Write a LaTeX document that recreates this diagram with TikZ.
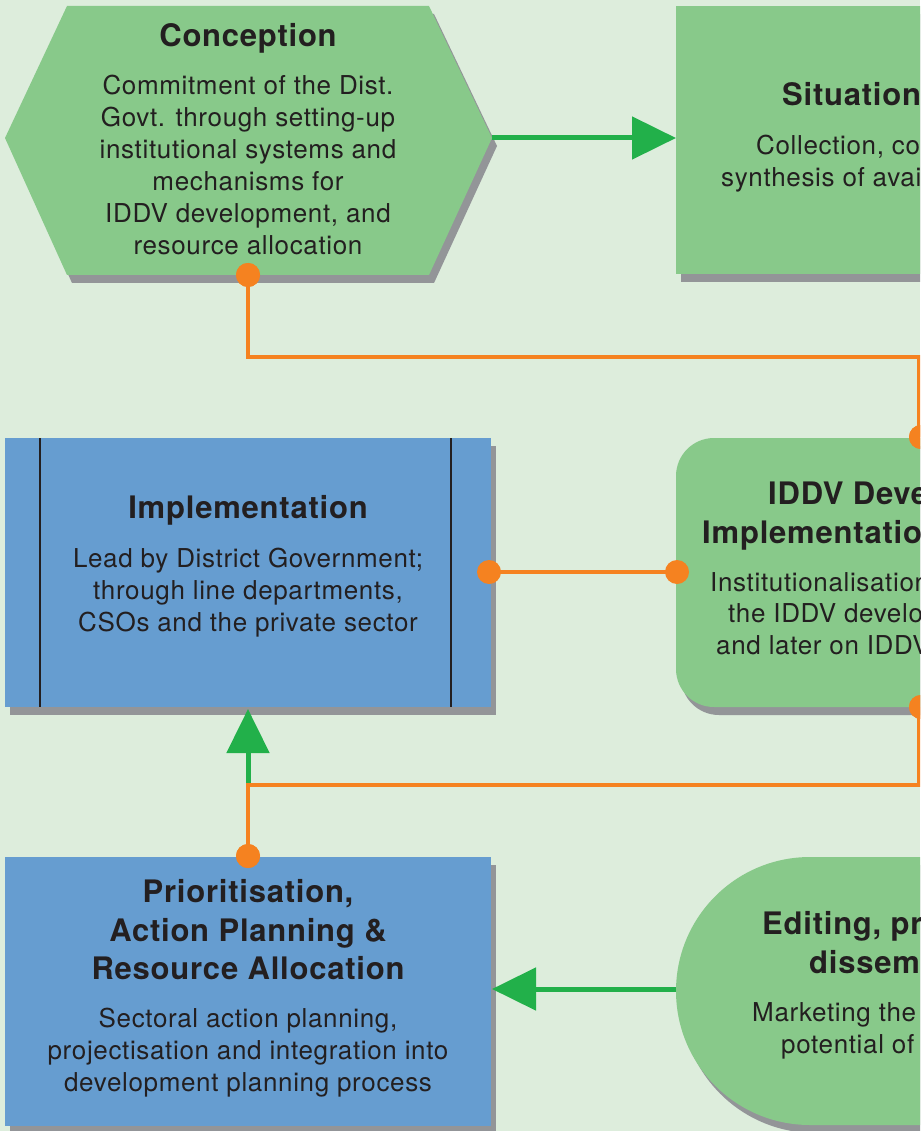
\documentclass[tikz,border=0pt]{standalone}
\usepackage{fontspec}
\setmainfont{TeX Gyre Heros}[LetterSpace=2.5]
\usetikzlibrary{arrows.meta}
\definecolor{bgc}{RGB}{221,237,220}
\definecolor{boxgreen}{RGB}{136,201,138}
\definecolor{boxblue}{RGB}{102,157,208}
\definecolor{shadowgray}{RGB}{147,149,152}
\definecolor{arrowgreen}{RGB}{34,176,74}
\definecolor{linkorange}{RGB}{245,130,32}
\definecolor{inkc}{RGB}{35,31,32}
\begin{document}
\begin{tikzpicture}[x=1pt,y=-1pt,
  shade/.style={fill=shadowgray},
  gbox/.style={fill=boxgreen},
  bbox/.style={fill=boxblue},
  ttl/.style={inner sep=0pt,text=inkc,font=\fontsize{31}{39}\selectfont\bfseries},
  bdy/.style={inner sep=0pt,text=inkc,font=\fontsize{26}{32}\selectfont},
  ctr/.style={anchor=base},
  frag/.style={anchor=base west},
  oline/.style={draw=linkorange,line width=4pt},
  garrow/.style={draw=arrowgreen,line width=5pt,-{Triangle[length=44pt,width=42pt]}},
  dot/.style={circle,fill=linkorange,inner sep=0pt,minimum size=24pt}]
\useasboundingbox (0,0) rectangle (920,1131);
\clip (0,0) rectangle (920,1131);
\fill[bgc] (0,0) rectangle (920,1131);

% ---------- shapes: shadows ----------
\fill[shade,shift={(5,8)}] (5,138) -- (67,6) -- (429,6) -- (492,138) -- (429,275) -- (67,275) -- cycle;
\fill[shade] (681,14) rectangle (960,282);
\fill[shade] (10,446) rectangle (496,715);
\fill[shade,rounded corners=38pt] (681,446) rectangle (1000,715);
\fill[shade] (10,865) rectangle (496,1134);
\fill[shade] (1000,865) -- (815,865) arc[start angle=270,end angle=90,radius=134] -- (1000,1133) -- cycle;

% ---------- shapes ----------
\fill[gbox] (5,138) -- (67,6) -- (429,6) -- (492,138) -- (429,275) -- (67,275) -- cycle;
\fill[gbox] (676,6) rectangle (960,274);
\fill[bbox] (5,438) rectangle (491,707);
\draw[inkc,line width=2pt] (40,438) -- (40,707) (451,438) -- (451,707);
\fill[gbox,rounded corners=38pt] (676,438) rectangle (1000,707);
\fill[bbox] (5,857) rectangle (491,1126);
\fill[gbox] (1000,857) -- (810,857) arc[start angle=270,end angle=90,radius=134] -- (1000,1125) -- cycle;

% ---------- anchor points ----------
\coordinate (conR) at (492,138);
\coordinate (sitL) at (676,138);
\coordinate (topRun) at (918.5,357);
\coordinate (botRun) at (918.5,785);
\coordinate (junc) at (248,785);
\coordinate (impB) at (248,709);
\coordinate (ediL) at (676,989);
\coordinate (priR) at (492,989);

% ---------- connectors ----------
\draw[garrow] (conR) -- (sitL);
\draw[garrow] (ediL) -- (priR);
\draw[garrow,shorten <=-1pt] (junc) -- (impB);

\node[dot] (dConB) at (248,275) {};
\node[dot] (dIdT) at (921,437) {};
\node[dot] (dImpR) at (489,572) {};
\node[dot] (dIdL) at (677,572) {};
\node[dot] (dIdB) at (921,707) {};
\node[dot] (dPriT) at (248,856) {};

\draw[oline,line join=miter] (dConB.center) |- (topRun) -- (dIdT.center -| topRun);
\draw[oline] (dImpR.center) -- (dIdL.center);
\draw[oline,line join=miter] (dIdB.center -| botRun) -- (botRun) -| (dPriT.center);
\node[dot] at (dConB) {};
\node[dot] at (dIdT) {};
\node[dot] at (dIdB) {};
\node[dot] at (dPriT) {};

% ---------- texts: Conception ----------
\node[ttl,ctr] (conT) at (248,47) {Conception};
\node[bdy,ctr] (con1) at (248,95) {Commitment of the Dist.};
\node[bdy,ctr] (con2) at (248,127) {Govt. through setting-up};
\node[bdy,ctr] (con3) at (248,159) {institutional systems and};
\node[bdy,ctr] (con4) at (248,191) {mechanisms for};
\node[bdy,ctr] (con5) at (248,223) {IDDV development, and};
\node[bdy,ctr] (con6) at (248,255) {resource allocation};

% ---------- Situation ----------
\node[ttl,frag] (sitT) at (782,106) {Situation};
\node[bdy,frag] (sit1) at (756,155) {Collection, co};
\node[bdy,frag] (sit2) at (721,187) {synthesis of avai};

% ---------- Implementation ----------
\node[ttl,ctr] (impT) at (248,518) {Implementation};
\node[bdy,ctr] (imp1) at (248,567) {Lead by District Government;};
\node[bdy,ctr] (imp2) at (248,599) {through line departments,};
\node[bdy,ctr] (imp3) at (248,631) {CSOs and the private sector};

% ---------- IDDV ----------
\node[ttl,frag] (iddT1) at (768,504) {IDDV Deve};
\node[ttl,frag] (iddT2) at (702,543) {Implementatio};
\node[bdy,frag] (idd1) at (710,591) {Institutionalisation};
\node[bdy,frag] (idd2) at (728,622) {the IDDV develo};
\node[bdy,frag] (idd3) at (716,654) {and later on IDDV};

% ---------- Prioritisation ----------
\node[ttl,ctr] (priT1) at (248,902) {Prioritisation,};
\node[ttl,ctr] (priT2) at (248,941) {Action Planning \&};
\node[ttl,ctr] (priT3) at (248,979) {Resource Allocation};
\node[bdy,ctr] (pri1) at (248,1027) {Sectoral action planning,};
\node[bdy,ctr] (pri2) at (248,1059) {projectisation and integration into};
\node[bdy,ctr] (pri3) at (248,1091) {development planning process};

% ---------- Editing ----------
\node[ttl,frag] (ediT1) at (762,934) {Editing, pr};
\node[ttl,frag] (ediT2) at (809,973) {dissem};
\node[bdy,frag] (edi1) at (752,1021) {Marketing the};
\node[bdy,frag] (edi2) at (781,1053) {potential of};
\end{tikzpicture}
\end{document}
